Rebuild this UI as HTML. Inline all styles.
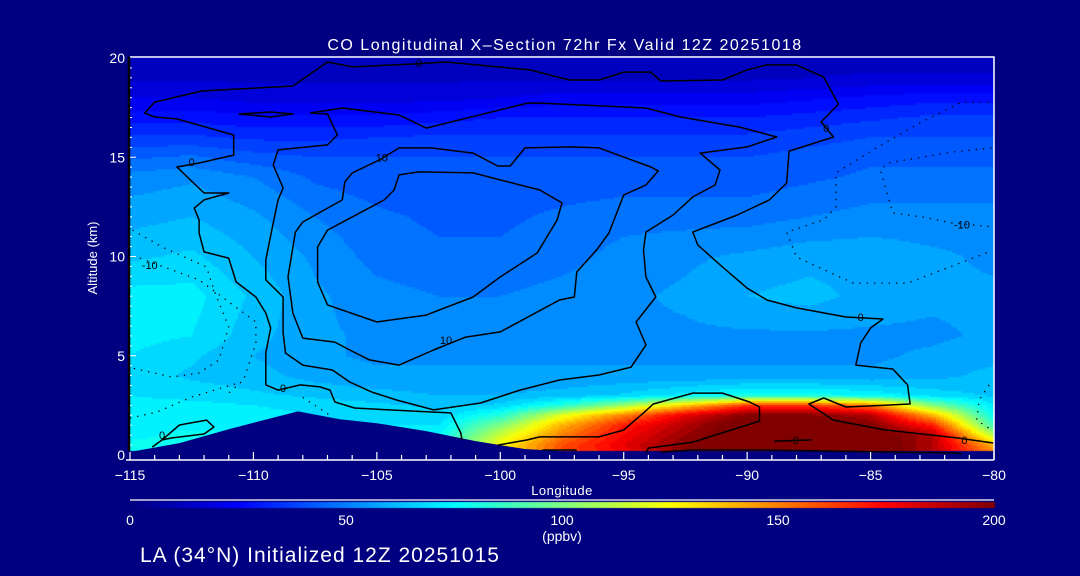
<!DOCTYPE html>
<html><head><meta charset="utf-8"><style>
html,body{margin:0;padding:0;background:#000080;}
#wrap{position:relative;width:1080px;height:576px;background:#000080;overflow:hidden;font-family:"Liberation Sans",sans-serif;}
#heat{position:absolute;left:0;top:0;}
svg{position:absolute;left:0;top:0;}
</style></head><body>
<div id="wrap">
<canvas id="heat" width="1080" height="576"></canvas>
<svg id="svg" width="1080" height="576"></svg>
</div>
<script>
// ---- data ----
const lons = [-115,-112.5,-110,-107.5,-105,-102.5,-100,-97.5,-95,-92.5,-90,-87.5,-85,-82.5,-80];
const alts = [0,0.5,1,1.5,2,2.5,3,4,5,6,8,10,12,14,15,16,17,18,19,20];
const co_a0   = [76,76,76,74,72,76,125,160,175,200,210,210,210,190,150];
const co_a05  = [76,76,76,74,72,76,125,160,180,200,210,210,210,190,140];
const co_a1   = [74,76,76,74,72,74,115,150,175,195,210,210,210,190,110];
const co_a15  = [74,74,74,72,70,70,100,140,170,190,210,210,200,170,85];
const co_a2   = [74,74,72,70,68,66,82,120,150,180,200,200,190,140,75];
const co_a25  = [72,72,70,68,66,64,66,82,105,135,165,165,150,100,70];
const co_a3   = [70,68,66,64,62,60,60,62,66,72,78,78,74,68,64];
const co_a4   = [68,64,62,58,56,56,56,56,56,56,56,56,56,58,62];
const co_a5   = [70,66,60,56,54,54,54,54,54,54,54,54,54,56,58];
const co_a6   = [72,70,62,56,54,52,52,54,54,54,54,54,54,54,56];
const co_a8   = [72,72,64,56,52,50,50,52,54,56,60,62,58,56,56];
const co_a10  = [64,66,60,54,48,46,46,48,52,54,56,58,58,56,54];
const co_a12  = [58,60,56,50,46,44,44,46,48,48,48,50,52,52,52];
const co_a14  = [52,54,50,44,42,42,42,42,42,42,42,44,46,46,46];
const co_a15k = [44,46,42,40,40,40,40,40,40,40,40,42,44,44,44];
const co_a16  = [36,36,34,34,35,36,36,36,36,36,36,38,40,40,40];
const co_a17  = [28,28,26,26,26,28,30,30,30,30,30,32,34,36,36];
const co_a18  = [20,20,18,18,18,18,20,22,22,22,22,24,26,28,28];
const co_a19  = [14,14,14,14,14,14,14,14,14,14,14,15,16,16,16];
const co_a20  = [12,12,12,12,12,12,12,12,12,12,12,12,12,12,12];
const coRows = [co_a0,co_a05,co_a1,co_a15,co_a2,co_a25,co_a3,co_a4,co_a5,co_a6,co_a8,co_a10,co_a12,co_a14,co_a15k,co_a16,co_a17,co_a18,co_a19,co_a20];
const terrainLon = [-115,-113,-111,-108.2,-106.5,-105,-103,-101,-99,-97,-80];
const terrainAlt = [0.15,0.6,1.3,2.2,1.8,1.6,1.2,0.7,0.3,0.15,0.1];
const xTicks = [-115,-110,-105,-100,-95,-90,-85,-80];
const yTicks = [0,5,10,15,20];
const cbTicks = [0,50,100,150,200];
// contours [lon,alt]
const cOuter = [[-101.55,0.76],[-101.6,1.11],[-102.0,2.12],[-102.9,2.17],[-104.5,2.27],[-105.9,2.37],[-106.7,2.67],[-106.9,3.27],[-107.3,3.43],[-108.1,3.53],[-109.0,3.27],[-109.5,3.53],[-109.5,5.14],[-109.3,6.40],[-109.5,7.15],[-109.9,7.96],[-110.7,8.72],[-111.0,9.92],[-112.0,10.23],[-112.2,11.18],[-112.2,11.84],[-112.4,12.44],[-112.0,12.85],[-111.0,13.2],[-112.0,13.2],[-113.1,14.51],[-112.2,14.71],[-110.8,15.11],[-110.8,16.12],[-113.1,16.93],[-114.0,17.03],[-114.4,17.23],[-114.0,17.78],[-112.1,18.34],[-108.4,18.59],[-107.0,19.8],[-106.0,19.55],[-103.5,19.7],[-102.2,19.8],[-98.8,19.4],[-97.2,18.89],[-96.0,18.89],[-95.0,19.29],[-93.9,19.29],[-93.5,18.84],[-91.0,18.89],[-90.0,19.4],[-89.2,19.65],[-88.0,19.65],[-86.9,19.04],[-86.3,17.68],[-87.0,16.78],[-86.5,16.02],[-88.3,15.31],[-88.4,13.7],[-89.1,12.85],[-90.4,12.09],[-92.2,11.23],[-92.0,10.58],[-91.0,9.47],[-90.0,8.41],[-89.2,7.81],[-88.0,7.41],[-86.0,6.95],[-84.5,6.85],[-85.0,6.40],[-85.4,5.64],[-85.6,4.53],[-84.1,4.33],[-83.5,3.53],[-83.4,2.57],[-86.0,2.42],[-86.9,2.87],[-87.5,2.57],[-86.5,1.76],[-84.4,1.26],[-81.5,0.86],[-80.0,0.6]];
const cSecond = [[-107.7,17.23],[-106.4,17.48],[-104.1,17.13],[-103.0,16.47],[-98.9,17.73],[-98.4,17.73],[-94.1,17.48],[-92.7,17.03],[-90.3,16.52],[-88.8,16.02],[-90.0,15.52],[-91.9,15.21],[-91.1,14.36],[-91.3,13.6],[-92.2,13.0],[-93.0,12.09],[-94.1,11.23],[-94.2,10.33],[-94.1,8.97],[-93.7,7.96],[-94.5,6.7],[-94.1,5.54],[-94.7,4.43],[-96.0,4.03],[-97.6,3.78],[-99.2,3.27],[-100.8,2.62],[-102.7,2.27],[-104.2,2.77],[-105.2,3.17],[-106.1,3.68],[-106.8,4.28],[-108.0,4.53],[-108.7,5.14],[-108.8,6.15],[-108.8,7.96],[-109.5,8.82],[-109.5,9.82],[-109.2,11.69],[-109.0,12.85],[-108.8,13.45],[-109.2,14.61],[-109.0,15.37],[-107.0,15.62],[-106.6,16.12],[-107.0,17.18],[-107.7,17.23]];
const cSmall = [[-110.6,17.18],[-109.3,17.28],[-108.4,17.18],[-109.3,17.03],[-110.6,17.18]];
const cTen = [[-106.4,12.85],[-106.3,13.75],[-106.0,14.21],[-104.9,14.86],[-104.1,15.47],[-102.8,15.47],[-101.1,15.21],[-100.1,14.56],[-99.6,14.56],[-99.0,15.47],[-97.1,15.52],[-96.0,15.47],[-93.9,14.51],[-93.6,14.31],[-94.1,13.6],[-95.0,13.1],[-95.6,11.18],[-96.1,10.33],[-96.9,9.22],[-97.0,7.96],[-97.6,7.81],[-100.0,6.2],[-101.4,5.94],[-102.7,5.29],[-104.1,4.53],[-105.3,4.79],[-106.1,5.29],[-106.7,5.69],[-108.0,5.89],[-108.4,7.15],[-108.6,8.97],[-108.3,11.23],[-108.0,11.74],[-106.4,12.85]];
const cInner = [[-104.7,12.85],[-107.0,11.33],[-107.4,10.48],[-107.4,8.72],[-107.0,7.56],[-105.0,6.7],[-103.0,7.05],[-101.1,7.96],[-100.0,8.97],[-98.5,10.18],[-97.7,11.84],[-97.5,12.7],[-98.4,13.35],[-101.1,14.21],[-103.3,14.26],[-104.1,14.11],[-104.3,13.35],[-104.7,12.85]];
const cPlume = [[-100.1,0.5],[-98.9,0.76],[-98.4,0.91],[-96.0,0.91],[-95.0,1.26],[-94.2,2.12],[-93.8,2.57],[-92.2,3.12],[-91.0,3.12],[-89.9,2.67],[-89.5,2.42],[-89.5,1.71],[-90.9,1.16],[-92.2,0.65],[-94.0,0.35],[-94.1,0.1]];
const cBase = [[-93.5,0.15],[-92.2,0.25],[-89.5,0.25],[-84.3,0.15],[-81.6,0.1],[-81.3,0.05]];
const cDashA = [[-88.9,0.7],[-87.4,0.76]];
const cDashB = [[-98.3,0.25],[-96.9,0.25]];
const cLeftLoop = [[-114.1,0.4],[-113.7,0.76],[-113.0,1.51],[-111.9,1.76],[-111.6,1.41],[-112.0,1.06],[-113.3,0.86],[-113.7,0.76]];
const dL1 = [[-114.9,11.33],[-113.7,10.48],[-111.9,9.47],[-111.6,8.31],[-111.0,6.45],[-111.4,4.79],[-112.2,4.13],[-113.3,3.93],[-114.9,4.38]];
const dL2 = [[-114.6,9.92],[-112.2,8.82],[-109.9,6.7],[-109.9,5.64],[-110.4,3.78],[-111.0,3.12]];
const dL3 = [[-115,1.86],[-113.9,2.17],[-112.5,2.92],[-110.6,3.63]];
const dL4 = [[-108.0,2.9],[-106.9,2.0]];
const dR1 = [[-80.3,10.18],[-83.5,8.66],[-85.7,8.66],[-88.0,9.97],[-88.4,11.23],[-86.9,11.84],[-86.4,12.49],[-86.4,14.21],[-84.9,15.37],[-83.0,16.73],[-81.3,17.78],[-80.0,17.78]];
const dR2 = [[-80.1,15.47],[-81.7,15.26],[-84.3,14.71],[-84.6,14.36],[-84.1,12.19],[-82.9,11.99],[-81.7,11.69],[-80.0,11.49]];
const dR3 = [[-80.2,3.53],[-80.6,2.77],[-80.7,1.76],[-80.1,1.26]];
const labelText = ["0","0","0","0","0","0","0","10","10","-10","-10","-0"];
const labelPos = [[-112.5,14.76],[-108.8,3.38],[-85.4,6.95],[-81.2,0.76],[-103.3,19.75],[-86.8,16.47],[-113.7,1.0],[-104.8,15.0],[-102.2,5.8],[-114.2,9.57],[-81.3,11.6],[-88.1,0.75]];

// ---- axes ----
const PL=130, PR=994, PT=57, PB=451;
const X = lon => PL + (lon+115)*(PR-PL)/35;
const Y = alt => 455 - alt*19.85;
function jet(t){t=Math.max(0,Math.min(1,t));const c=v=>Math.round(255*Math.max(0,Math.min(1,v)));
 return [c(1.5-Math.abs(4*t-3)),c(1.5-Math.abs(4*t-2)),c(1.5-Math.abs(4*t-1))];}
function valueAt(lon,alt){
 let fi=(lon-lons[0])/(lons[1]-lons[0]);fi=Math.max(0,Math.min(lons.length-1.001,fi));
 const i=Math.floor(fi),tx=fi-i;
 let j=0;while(j<alts.length-2&&alts[j+1]<alt)j++;
 let ty=(alt-alts[j])/(alts[j+1]-alts[j]);ty=Math.max(0,Math.min(1,ty));
 const a=coRows[j][i],b=coRows[j][i+1],c=coRows[j+1][i],d=coRows[j+1][i+1];
 return (a*(1-tx)+b*tx)*(1-ty)+(c*(1-tx)+d*tx)*ty;}
// heatmap
const ctx=document.getElementById('heat').getContext('2d');
for(let py=PT;py<PB;py+=2){for(let px=PL;px<PR;px+=2){
 const lon=-115+(px+1-PL)*35/(PR-PL), alt=(455-(py+1))/19.85;
 let v=valueAt(lon,alt); v=Math.floor(v/5)*5+2.5;
 const c=jet(v/200);ctx.fillStyle=`rgb(${c[0]},${c[1]},${c[2]})`;ctx.fillRect(px,py,2,2);}}
// colorbar
for(let px=PL;px<=PR;px++){const c=jet((px-PL)/(PR-PL));ctx.fillStyle=`rgb(${c[0]},${c[1]},${c[2]})`;ctx.fillRect(px,502,1,6);}

const svg=document.getElementById('svg');const NS='http://www.w3.org/2000/svg';
function mk(tag,attrs,parent){const e=document.createElementNS(NS,tag);for(const k in attrs)e.setAttribute(k,attrs[k]);(parent||svg).appendChild(e);return e;}
// terrain
let tp=`M${X(-115)},${PB}`;terrainLon.forEach((l,k)=>{tp+=` L${X(l)},${Y(terrainAlt[k])}`;});tp+=` L${X(-80)},${PB} L${X(-80)},470 L${X(-115)},470 Z`;
const terr=mk('path',{d:tp,fill:'#000080'});


// contours
const pts=a=>a.map(p=>X(p[0]).toFixed(1)+','+Y(p[1]).toFixed(1)).join(' ');
const solid=[['contour-outer-0',cOuter],['contour-second',cSecond],['contour-small-loop',cSmall],['contour-10',cTen],['contour-inner',cInner],['contour-plume',cPlume],['contour-base',cBase],['contour-dash-a',cDashA],['contour-dash-b',cDashB],['contour-left-loop',cLeftLoop]];
solid.forEach(s=>{const e=mk('polyline',{points:pts(s[1]),fill:'none',stroke:'#000','stroke-width':1.5,'stroke-linejoin':'round'});
 
 });
const dotted=[['contour-neg10-left-a',dL1],['contour-neg10-left-b',dL2],['contour-neg10-left-c',dL3],['contour-neg10-left-d',dL4],['contour-neg10-right-a',dR1],['contour-neg10-right-b',dR2],['contour-neg10-right-c',dR3]];
dotted.forEach(s=>{const e=mk('polyline',{points:pts(s[1]),fill:'none',stroke:'#000','stroke-width':1.3,'stroke-dasharray':'1.3,6'});
 
 });
labelText.forEach((t,k)=>{const e=mk('text',{x:X(labelPos[k][0]),y:Y(labelPos[k][1])+4,'font-size':11,fill:'#000','text-anchor':'middle'});e.textContent=t;
 
 });
// frame
const fr=mk('path',{d:`M${PL},${PT} H${PR} V460`,fill:'none',stroke:'#fff','stroke-width':1.5});


const xa=mk('line',{x1:126,y1:460,x2:PR,y2:460,stroke:'#fff','stroke-width':1.5});


const ya=mk('line',{x1:129,y1:PT,x2:129,y2:PB,stroke:'#000','stroke-width':2.5});


for(let l=-115;l<=-80;l++){const maj=(l%5===0);const e=mk('line',{x1:X(l),x2:X(l),y1:460,y2:maj?452:455,stroke:'#fff','stroke-width':1.2});
 
 }
for(let a=0.5;a<20;a+=0.5){const e=mk('line',{x1:130,x2:a%5===0?136:132,y1:Y(a),y2:Y(a),stroke:'#fff','stroke-width':1});
 
 }
xTicks.forEach(l=>{const e=mk('text',{x:X(l),y:480,'font-size':14,fill:'#fff','text-anchor':'middle'});e.textContent=(l<0?'\u2212'+(-l):l);
 
 });
yTicks.forEach(a=>{const e=mk('text',{x:125,y:Math.min(Y(a),460)+5,'font-size':14,fill:'#fff','text-anchor':'end'});e.textContent=a;
 
 });
// colorbar
const cbl=mk('line',{x1:PL,y1:500,x2:PR,y2:500,stroke:'#fff','stroke-width':1.2});


cbTicks.forEach(v=>{const e=mk('text',{x:PL+v/200*(PR-PL),y:525,'font-size':14,fill:'#fff','text-anchor':'middle'});e.textContent=v;
 
 });
function txt(name,s,attrs){const e=mk('text',attrs);e.textContent=s;
 
 return e;}
txt('chart-title','CO Longitudinal X\u2013Section 72hr  Fx Valid 12Z 20251018',{x:565,y:50,'font-size':16,fill:'#fff','text-anchor':'middle','letter-spacing':'1.5','xml:space':'preserve'});
txt('x-axis-title','Longitude',{x:562,y:495,'font-size':13,fill:'#fff','text-anchor':'middle','letter-spacing':'0.5'});
txt('y-axis-title','Altitude (km)',{x:97,y:258,'font-size':13,fill:'#fff','text-anchor':'middle',transform:'rotate(-90 97 258)'});
txt('colorbar-units','(ppbv)',{x:562,y:541,'font-size':14,fill:'#fff','text-anchor':'middle'});
txt('init-caption','LA (34\u00b0N) Initialized 12Z 20251015',{x:140,y:562,'font-size':21,fill:'#fff','letter-spacing':'1'});
</script>
</body></html>
